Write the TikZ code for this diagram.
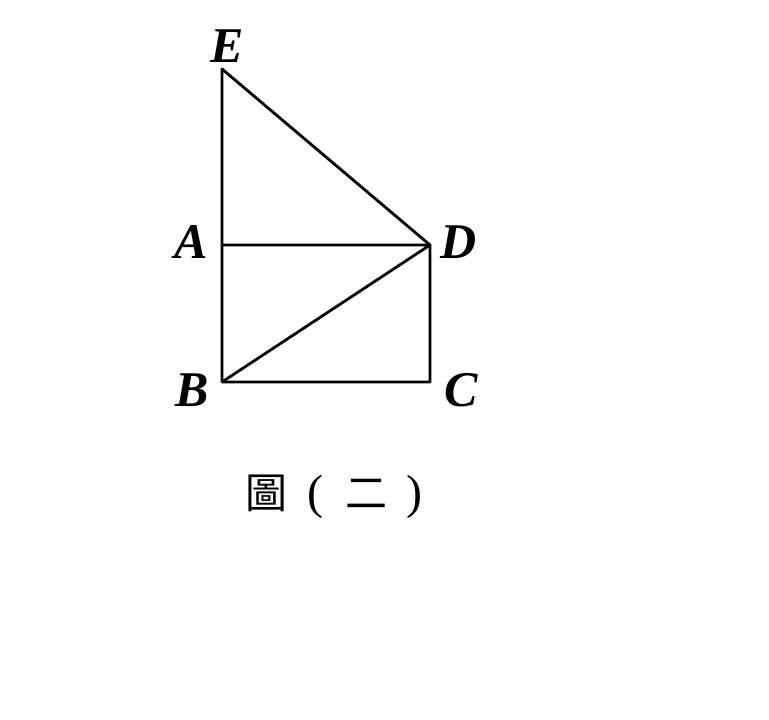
\documentclass[tikz,border=0pt]{standalone}
\usepackage{fontspec}
\setmainfont{Liberation Serif}
\newfontfamily\cjk{Noto Sans CJK TC}
\tikzset{
  edge/.style={line width=2.8pt, line join=round},
  lbl/.style={inner sep=0pt, anchor=base, font=\fontsize{50}{50}\selectfont\bfseries\itshape},
  cjktext/.style={inner sep=0pt, anchor=base, font=\fontsize{42}{42}\selectfont\cjk},
  paren/.style={inner sep=0pt, anchor=base, font=\fontsize{48}{48}\selectfont}
}
\begin{document}
\begin{tikzpicture}[x=1pt,y=-1pt]
\useasboundingbox (0,0) rectangle (769,720);
\coordinate (E) at (222,69);
\coordinate (A) at (222,245);
\coordinate (D) at (430,245);
\coordinate (B) at (222,382);
\coordinate (C) at (430,382);
\draw[edge] (E) -- (B) -- (C) -- (D) -- cycle;
\draw[edge] (A) -- (D) -- (B);
\node[lbl] (lE) at (227,62) {E};
\node[lbl] (lA) at (191,258) {A};
\node[lbl] (lD) at (459,258) {D};
\node[lbl] (lB) at (192,406) {B};
\node[lbl] (lC) at (461,406) {C};
\node[cjktext] (c1) at (266,508) {圖};
\node[paren] (p1) at (315,508) {(};
\node[cjktext] (c2) at (366,508) {二};
\node[paren] (p2) at (414,508) {)};
\end{tikzpicture}
\end{document}
